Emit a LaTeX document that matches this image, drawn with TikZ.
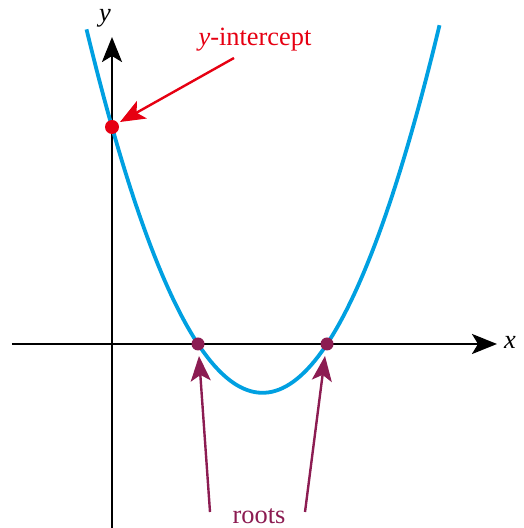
\documentclass[tikz,border=0pt]{standalone}
\usepackage{fontspec}
\setmainfont{Liberation Serif}
\usetikzlibrary{arrows.meta}
\definecolor{curveblue}{RGB}{0,160,225}
\definecolor{markred}{RGB}{230,0,18}
\definecolor{rootpurple}{RGB}{140,28,82}
\tikzset{
  axis/.style={black,line width=1.4pt,-{Stealth[length=12.5pt,width=10pt,inset=3pt]}},
  pointer/.style={line width=1.2pt,-{Stealth[length=12.5pt,width=10pt,inset=3pt]}},
  lbl/.style={inner sep=0pt,font=\fontsize{13.2}{15}\selectfont}
}
\begin{document}
\begin{tikzpicture}[x=0.5pt,y=0.5pt]
\useasboundingbox (-112,-184) rectangle (411,344);
% axes
\draw[axis] (-100,0) -- (385,0);
\draw[axis] (0,-184) -- (0,307);
\node[lbl,font=\fontsize{13.2}{15}\selectfont\itshape] (xlab) at (398,2) {x};
\node[lbl,font=\fontsize{13.2}{15}\selectfont\itshape] (ylab) at (-7,326) {y};
% parabola
\draw[curveblue,line width=1.9pt,domain=-25.5:327.5,samples=100]
  plot (\x,{0.011736*(\x-86)*(\x-215)});
% points
\coordinate (yint) at (0,217);
\coordinate (rootA) at (86,0);
\coordinate (rootB) at (215,0);
\fill[markred] (yint) circle (7);
\fill[rootpurple] (rootA) circle (6.5);
\fill[rootpurple] (rootB) circle (6.5);
% labels
\node[lbl,text=markred] (ilab) at (143,304) {\textit{y}-intercept};
\node[lbl,text=rootpurple] (rlab) at (147,-172) {roots};
\coordinate (itip) at (8,222);
\coordinate (itail) at (122,286);
\draw[pointer,markred] (itail) -- (itip);
\coordinate (rtailA) at (98,-168);
\coordinate (rtailB) at (193,-168);
\coordinate (rtipA) at (87,-12);
\coordinate (rtipB) at (213,-12);
\draw[pointer,rootpurple] (rtailA) -- (rtipA);
\draw[pointer,rootpurple] (rtailB) -- (rtipB);
\end{tikzpicture}
\end{document}
